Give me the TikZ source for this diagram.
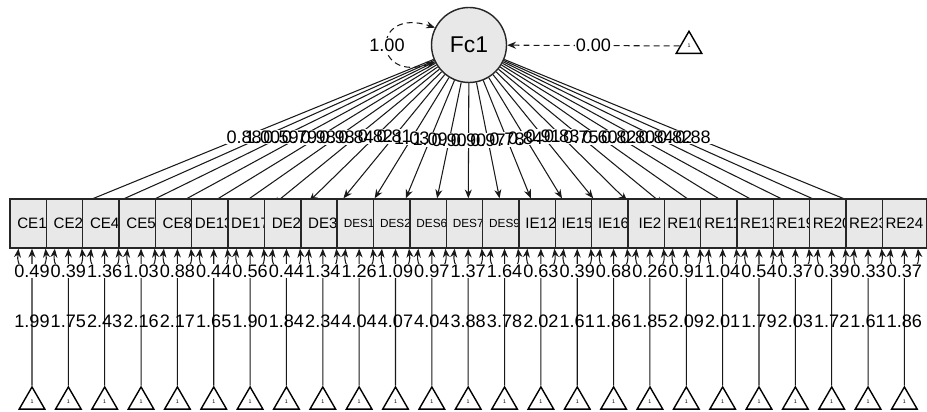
\documentclass[tikz,border=0pt]{standalone}
\usepackage{fontspec}
\setmainfont{Liberation Sans}
\usepackage{tikz}
\usetikzlibrary{shapes.geometric, arrows.meta, calc, backgrounds}
\tikzstyle{latent} = [
    circle, minimum size=1.5cm, inner sep=0pt, draw=black!85,
    line width=0.8pt, fill=black!9, font=\fontsize{13}{15}\selectfont
]
\tikzstyle{manifest} = [
    rectangle, minimum width=0.88cm, minimum height=0.98cm, inner sep=0pt,
    draw=black!85, line width=0.8pt, fill=black!9, font=\fontsize{8.6}{10}\selectfont
]
\tikzstyle{const} = [
    regular polygon, regular polygon sides=3, minimum size=0.59cm, inner sep=0pt,
    draw=black, line width=0.8pt, fill=white, font=\fontsize{3}{3}\selectfont
]
\tikzstyle{arrow} = [-{Stealth[length=5pt, width=4pt]}, line width=0.6pt, draw=black!90]
\tikzstyle{dblarrow} = [{Stealth[length=5pt, width=4pt]}-{Stealth[length=5pt, width=4pt]},
    line width=0.6pt, draw=black!90]
\tikzstyle{est} = [font=\fontsize{10.3}{12}\selectfont, inner sep=0.5pt]
\tikzstyle{dashline} = [dash pattern=on 3.4pt off 2.3pt]
\newcommand{\desfont}{\fontsize{6.7}{8}\selectfont}

\begin{document}
\begin{tikzpicture}[x=0.02cm, y=-0.02cm]
        \useasboundingbox (0,0) rectangle (927,412);
        \node[latent] (fc) at (469,45) {Fc1};
        \node[const] (m0) at (689,46) {1};

        % observed variables and their intercept triangles
        \foreach \name [count=\i] in {CE1, CE2, CE4, CE5, CE8, DE13, DE17, DE2, DE3,
            {\desfont DES1}, {\desfont DES2}, {\desfont DES6}, {\desfont DES7},
            {\desfont DES9}, IE12, IE15, IE16, IE2, RE10, RE11, RE13, RE19,
            RE20, RE23, RE24} {
            \node[manifest] (b\i) at ({32+36.35*(\i-1)},223.5) {\name};
            \node[const] (t\i) at ({32+36.35*(\i-1)},401.7) {1};
        }

        \draw[dblarrow, dashline] (fc.207) .. controls (371,84) and (371,6) ..
            node[midway, est, fill=white] {1.00} (fc.153);
        \draw[arrow, dashline] (m0) -- node[est, fill=white] {0.00} (fc);

        \begin{scope}[on background layer]
            % loadings
            \foreach \i in {1,...,25}
                \draw[arrow] (fc) -- (b\i);
            \foreach \v [count=\i] in {0.88, 1.00, 0.59, 0.79, 0.98, 0.98, 0.84,
                0.82, 0.81, 1.03, 1.09, 0.90, 0.90, 0.97, 0.78, 0.84, 0.91, 0.83,
                0.75, 0.60, 0.82, 0.80, 0.84, 0.82, 0.88}
                \path (fc) -- (b\i) node[midway, est, fill=white] {\phantom{\v}};
            \foreach \v [count=\i] in {0.88, 1.00, 0.59, 0.79, 0.98, 0.98, 0.84,
                0.82, 0.81, 1.03, 1.09, 0.90, 0.90, 0.97, 0.78, 0.84, 0.91, 0.83,
                0.75, 0.60, 0.82, 0.80, 0.84, 0.82, 0.88}
                \path (fc) -- (b\i) node[midway, est] {\v};

            % intercepts
            \foreach \v [count=\i] in {1.99, 1.75, 2.43, 2.16, 2.17, 1.65, 1.90,
                1.84, 2.34, 4.04, 4.07, 4.04, 3.88, 3.78, 2.02, 1.61, 1.86, 1.85,
                2.09, 2.01, 1.79, 2.03, 1.72, 1.61, 1.86}
                \draw[arrow] (t\i) -- node[pos=0.47, est] {\v} (b\i);

            % residual variances
            \foreach \v [count=\i] in {0.49, 0.39, 1.36, 1.03, 0.88, 0.44, 0.56,
                0.44, 1.34, 1.26, 1.09, 0.97, 1.37, 1.64, 0.63, 0.39, 0.68, 0.26,
                0.91, 1.04, 0.54, 0.37, 0.39, 0.33, 0.37}
                \draw[dblarrow] ($(b\i.south)+(-13.5,0)$) .. controls +(-3.5,30)
                    and +(3.5,30) .. node[midway, est, fill=white] {\v}
                    ($(b\i.south)+(13.5,0)$);
        \end{scope}
    \end{tikzpicture}
\end{document}
